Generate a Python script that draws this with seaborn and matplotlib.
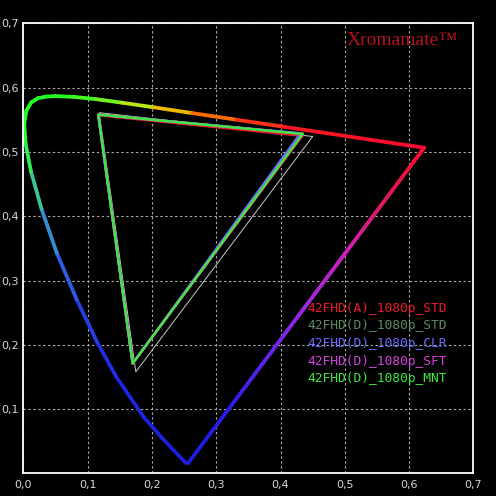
import matplotlib

matplotlib.use("Agg")

import matplotlib.pyplot as plt
import numpy as np
import seaborn as sns
from matplotlib.collections import LineCollection
from matplotlib.colors import LinearSegmentedColormap, to_rgb

# CIE 1976 u'v' spectral locus (380 .. 700 nm)
locus_nm = [380, 400, 420, 440, 450, 460, 470, 475, 480, 485, 490, 495, 500, 505,
            510, 515, 520, 525, 530, 540, 550, 560, 570, 580, 590, 600, 620, 640, 700]
locus_u = [0.2568, 0.2557, 0.2522, 0.2347, 0.2161, 0.1877, 0.1441, 0.1147, 0.0828,
           0.0521, 0.0282, 0.0119, 0.0035, 0.0014, 0.0046, 0.0123, 0.0231, 0.0360,
           0.0501, 0.0792, 0.1127, 0.1531, 0.2026, 0.2623, 0.3315, 0.4035, 0.5203,
           0.5830, 0.6234]
locus_v = [0.0166, 0.0159, 0.0169, 0.0350, 0.0549, 0.0871, 0.1510, 0.2044, 0.2708,
           0.3427, 0.4117, 0.4698, 0.5131, 0.5432, 0.5638, 0.5770, 0.5837, 0.5861,
           0.5868, 0.5856, 0.5821, 0.5766, 0.5694, 0.5604, 0.5501, 0.5393, 0.5219,
           0.5125, 0.5065]

# gamut triangles (R, G, B corners)
ref_u = [0.450, 0.118, 0.175]
ref_v = [0.524, 0.561, 0.158]

series_names = ["42FHD(A)_1080p_STD", "42FHD(D)_1080p_STD", "42FHD(D)_1080p_CLR",
                "42FHD(D)_1080p_SFT", "42FHD(D)_1080p_MNT"]
series_u = [[0.434, 0.1166, 0.170],
            [0.4345, 0.1166, 0.170],
            [0.431, 0.1163, 0.170],
            [0.4345, 0.1166, 0.170],
            [0.4345, 0.1166, 0.170]]
series_v = [[0.525, 0.557, 0.171],
            [0.528, 0.558, 0.171],
            [0.529, 0.558, 0.171],
            [0.528, 0.558, 0.171],
            [0.528, 0.558, 0.171]]

tick_values = [0.0, 0.1, 0.2, 0.3, 0.4, 0.5, 0.6, 0.7]
tick_labels = ["0,0", "0,1", "0,2", "0,3", "0,4", "0,5", "0,6", "0,7"]

series_colors = ["#ee1c2a", "#5c8c62", "#6c6cff", "#d842e0", "#3ee83e"]

# colour of the locus at each wavelength above
locus_colors = ["#1c1cdc", "#1c1cdc", "#1c1cdc", "#1c1cdc", "#1c1edc", "#1e22de",
                "#2028e0", "#2232e2", "#2a48e8", "#3272e4", "#3ea8c0", "#34e070",
                "#26f838", "#22ff22", "#22ff22", "#22ff22", "#22ff22", "#22ff22",
                "#22ff22", "#30ff20", "#50f820", "#90f020", "#e0e000", "#ff9000",
                "#ff4a10", "#ff1a20", "#ff1028", "#ff0a30", "#ff0a30"]


def gradient_line(ax, u, v, colors, lw):
    pts = np.column_stack([u, v])
    segs = np.stack([pts[:-1], pts[1:]], axis=1)
    rgb = np.array([to_rgb(c) for c in colors])
    seg_rgb = (rgb[:-1] + rgb[1:]) / 2
    lc = LineCollection(segs, colors=seg_rgb, linewidths=lw, capstyle="round",
                        joinstyle="round", zorder=3)
    ax.add_collection(lc)


sns.set_theme(style="dark", rc={
    "figure.facecolor": "black",
    "axes.facecolor": "black",
})

fig, ax = plt.subplots(figsize=(4.96, 4.96), dpi=100)
fig.subplots_adjust(left=0.047, right=0.9545, bottom=0.0455, top=0.953)

# spectral locus
gradient_line(ax, locus_u, locus_v, locus_colors, 2.7)

# line of purples, coloured from red to blue
purple_cmap = LinearSegmentedColormap.from_list(
    "purples", ["#ff0a30", "#e01858", "#d020b8", "#a028e0", "#6424ee", "#2a1ce6", "#1c1cdc"])
n = 120
t = np.linspace(0, 1, n)
pu = locus_u[-1] + (locus_u[0] - locus_u[-1]) * t
pv = locus_v[-1] + (locus_v[0] - locus_v[-1]) * t
gradient_line(ax, pu, pv, [purple_cmap(x) for x in t], 2.7)

# reference triangle
sns.lineplot(x=ref_u + ref_u[:1], y=ref_v + ref_v[:1], sort=False, estimator=None,
             color="#c8c8c8", lw=0.7, ax=ax, zorder=4)

for u, v, c in zip(series_u, series_v, series_colors):
    sns.lineplot(x=u + u[:1], y=v + v[:1], sort=False, estimator=None,
                 color=c, lw=1.7, ax=ax, zorder=5)

# legend as coloured text
for i, (name, c) in enumerate(zip(series_names, series_colors)):
    ax.text(0.441, 0.257 - i * 0.0275, name, color=c, fontsize=9.3,
            family="DejaVu Sans Mono", va="center", ha="left", zorder=6)

ax.text(0.503, 0.674, "Xromamate\u2122", color="#b8101c", fontsize=14,
        family="Liberation Serif", va="center", ha="left")

ax.set_xlim(0, 0.7)
ax.set_ylim(0, 0.7)
ax.set_xticks(tick_values)
ax.set_xticklabels(tick_labels)
ax.set_yticks(tick_values[1:])
ax.set_yticklabels(tick_labels[1:])
ax.tick_params(axis="both", colors="#d8d8d8", labelsize=8, length=0)
ax.tick_params(axis="x", pad=5)
ax.tick_params(axis="y", pad=3)
ax.set_xlabel("")
ax.set_ylabel("")

ax.grid(True, color="#a8a8a8", linestyle=(0, (2.2, 2.2)), linewidth=0.8)
for s in ax.spines.values():
    s.set_visible(True)
    s.set_color("white")
    s.set_linewidth(1.3)
    s.set_zorder(7)

fig.savefig("out.png", dpi=100, facecolor="black")
